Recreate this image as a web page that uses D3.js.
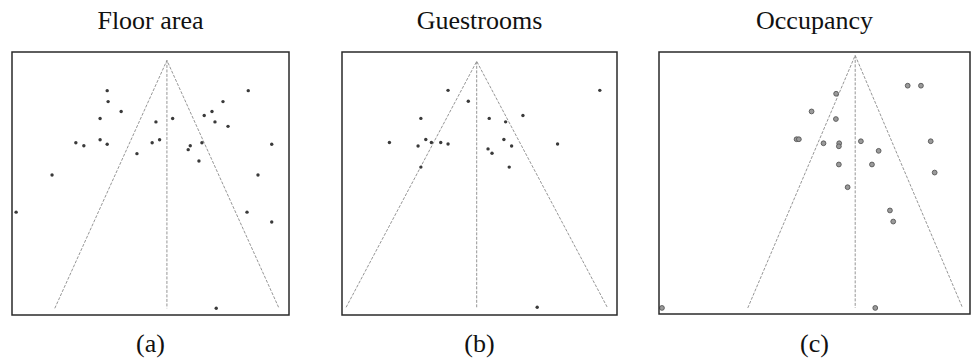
<!DOCTYPE html>
<html>
<head>
<meta charset="utf-8">
<script src="https://cdn.jsdelivr.net/npm/d3@7"></script>
<style>
  html, body { margin: 0; padding: 0; background: #fff; }
  svg { display: block; }
</style>
</head>
<body>
<svg id="chart" width="971" height="364"></svg>
<script>
// Funnel plots: effect size (x) against standard error (y, 0 at top)

// (a) Floor area
const floorTitle = "Floor area";
const floorLabel = "(a)";
const floorMean = 0.25;
const floorEffect = [-0.272, -0.264, -0.150, -0.334, 0.154, 0.300, 0.961, 0.740, 0.644, 0.576,
                     0.670, 0.784, -0.546, -0.476, -0.334, -0.272, -0.012, 0.121, 0.186, 0.454,
                     0.436, 0.556, 0.530, 1.166, -0.754, 1.046, -1.068, 0.950, 1.166, 0.681];
const floorSE = [0.061, 0.083, 0.103, 0.117, 0.124, 0.117, 0.061, 0.083, 0.103, 0.111,
                 0.124, 0.133, 0.166, 0.172, 0.160, 0.169, 0.188, 0.166, 0.160, 0.172,
                 0.180, 0.166, 0.203, 0.169, 0.231, 0.231, 0.306, 0.306, 0.326, 0.500];
const floorXDomain = [-1.104, 1.317];
const floorYDomain = [-0.017, 0.5135];

// (b) Guestrooms
const roomsTitle = "Guestrooms";
const roomsLabel = "(b)";
const roomsMean = 0.20;
const roomsEffect = [-0.015, 0.137, 1.124, -0.219, 0.294, 0.417, 0.547, -0.455, -0.182, -0.240,
                     -0.140, -0.070, -0.015, 0.404, 0.462, 0.285, 0.315, 0.807, -0.219, 0.444, 0.654];
const roomsSE = [0.059, 0.081, 0.059, 0.116, 0.116, 0.123, 0.110, 0.165, 0.159, 0.172,
                 0.165, 0.165, 0.168, 0.159, 0.172, 0.178, 0.187, 0.168, 0.215, 0.215, 0.500];
const roomsXDomain = [-0.811, 1.253];
const roomsYDomain = [-0.019, 0.5157];

// (c) Occupancy
const occTitle = "Occupancy";
const occLabel = "(c)";
const occMean = 0.10;
const occEffect = [0.579, 0.700, -0.074, -0.298, -0.076, -0.435, -0.414, -0.189, -0.046, -0.049,
                   0.152, 0.314, 0.789, -0.049, 0.253, 0.825, 0.031, 0.417, 0.447, -1.663, 0.283];
const occSE = [0.060, 0.060, 0.076, 0.111, 0.126, 0.166, 0.166, 0.174, 0.174, 0.180,
               0.170, 0.189, 0.170, 0.216, 0.216, 0.232, 0.261, 0.307, 0.329, 0.500, 0.500];
const occXDomain = [-1.690, 1.1475];
const occYDomain = [-0.0067, 0.512];

const panels = [
  { title: floorTitle, label: floorLabel, mean: floorMean, effect: floorEffect, se: floorSE,
    xDomain: floorXDomain, yDomain: floorYDomain,
    box: { left: 12, top: 52, right: 289, bottom: 315 }, dot: "small" },
  { title: roomsTitle, label: roomsLabel, mean: roomsMean, effect: roomsEffect, se: roomsSE,
    xDomain: roomsXDomain, yDomain: roomsYDomain,
    box: { left: 342, top: 52, right: 617, bottom: 315 }, dot: "small" },
  { title: occTitle, label: occLabel, mean: occMean, effect: occEffect, se: occSE,
    xDomain: occXDomain, yDomain: occYDomain,
    box: { left: 659, top: 52, right: 970, bottom: 314 }, dot: "large" }
];

const svg = d3.select("#chart");
const serif = "'Liberation Serif', 'Times New Roman', serif";

panels.forEach(p => {
  const b = p.box;
  const x = d3.scaleLinear().domain(p.xDomain).range([b.left, b.right]);
  const y = d3.scaleLinear().domain(p.yDomain).range([b.top, b.bottom]);
  const seMax = d3.max(p.se);
  const g = svg.append("g");

  // pseudo confidence funnel (mean ± 1.96·SE)
  const funnel = [
    [p.mean - 1.96 * seMax, seMax],
    [p.mean, 0],
    [p.mean + 1.96 * seMax, seMax]
  ];
  g.append("path")
    .attr("d", d3.line().x(d => x(d[0])).y(d => y(d[1]))(funnel))
    .attr("fill", "none")
    .attr("stroke", "#8a8a8a")
    .attr("stroke-width", 0.9)
    .attr("stroke-dasharray", "3,1.5");

  // summary effect line
  g.append("line")
    .attr("x1", x(p.mean)).attr("x2", x(p.mean))
    .attr("y1", y(0)).attr("y2", y(seMax))
    .attr("stroke", "#8a8a8a")
    .attr("stroke-width", 0.9)
    .attr("stroke-dasharray", "3,1.5");

  // study points
  const pts = p.effect.map((e, i) => ({ e, s: p.se[i] }));
  const dots = g.selectAll("circle.study").data(pts).join("circle")
    .attr("class", "study")
    .attr("cx", d => x(d.e))
    .attr("cy", d => y(d.s));
  if (p.dot === "small") {
    dots.attr("r", 1.7).attr("fill", "#3a3a3a");
  } else {
    dots.attr("r", 2.4).attr("fill", "#9a9a9a").attr("stroke", "#555").attr("stroke-width", 0.9);
  }

  // plot frame
  g.append("rect")
    .attr("x", b.left).attr("y", b.top)
    .attr("width", b.right - b.left).attr("height", b.bottom - b.top)
    .attr("fill", "none")
    .attr("stroke", "#2a2a2a")
    .attr("stroke-width", 1.5);

  const cx = (b.left + b.right) / 2;
  g.append("text")
    .attr("x", cx).attr("y", 29)
    .attr("text-anchor", "middle")
    .attr("font-family", serif)
    .attr("font-size", 26)
    .attr("fill", "#111")
    .text(p.title);

  g.append("text")
    .attr("x", cx).attr("y", 352)
    .attr("text-anchor", "middle")
    .attr("font-family", serif)
    .attr("font-size", 26)
    .attr("fill", "#111")
    .text(p.label);
});
</script>
</body>
</html>
